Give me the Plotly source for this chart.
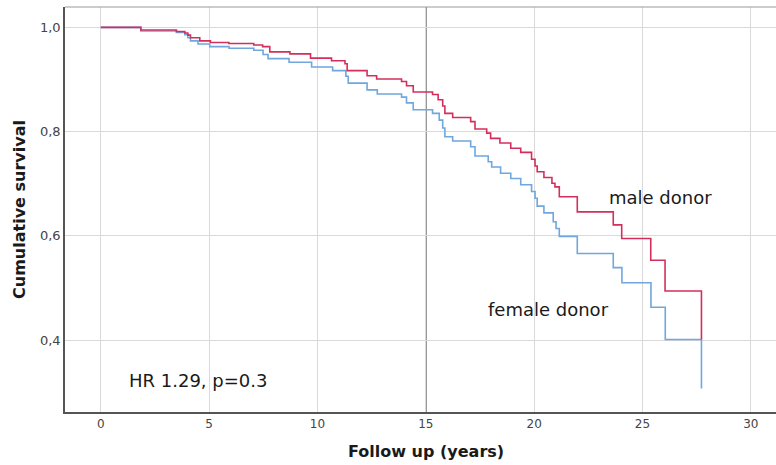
import plotly.graph_objects as go

# Kaplan-Meier step data (time in years, survival after the event)
male_time = [0, 1.85, 3.49, 3.88, 4.02, 4.14, 4.57, 5.06, 5.91, 7.06, 7.47, 7.80, 8.73, 9.68,
             10.65, 11.27, 11.37, 12.29, 12.73, 13.88, 14.11, 14.42, 15.31, 15.57, 15.78, 15.88,
             16.24, 17.07, 17.27, 17.81, 17.99, 18.42, 18.92, 19.38, 19.88, 20.04, 20.14, 20.45,
             20.82, 20.96, 21.16, 21.99, 23.65, 24.04, 25.38, 26.04, 27.72]
male_surv = [1.0, 0.995, 0.992, 0.989, 0.985, 0.980, 0.974, 0.971, 0.969, 0.966, 0.963, 0.953,
             0.949, 0.941, 0.936, 0.930, 0.917, 0.907, 0.901, 0.896, 0.888, 0.876, 0.871, 0.861,
             0.849, 0.835, 0.827, 0.819, 0.805, 0.797, 0.787, 0.778, 0.768, 0.760, 0.747, 0.734,
             0.723, 0.712, 0.701, 0.694, 0.675, 0.646, 0.621, 0.595, 0.553, 0.494, 0.401]

female_time = [0, 1.85, 3.49, 3.88, 4.02, 4.14, 4.49, 5.03, 5.92, 7.06, 7.49, 7.72, 8.69, 9.73,
               10.70, 11.31, 11.42, 12.29, 12.76, 13.88, 14.11, 14.42, 15.31, 15.62, 15.78, 15.88,
               16.24, 17.07, 17.27, 17.88, 18.04, 18.45, 18.92, 19.38, 19.88, 20.04, 20.14, 20.45,
               20.88, 21.01, 21.16, 21.99, 23.65, 24.05, 25.39, 26.05, 27.72]
female_surv = [1.0, 0.993, 0.990, 0.986, 0.980, 0.974, 0.968, 0.963, 0.960, 0.956, 0.948, 0.940,
               0.933, 0.924, 0.917, 0.906, 0.893, 0.880, 0.872, 0.866, 0.855, 0.842, 0.835, 0.822,
               0.807, 0.790, 0.782, 0.771, 0.753, 0.742, 0.732, 0.720, 0.710, 0.698, 0.685, 0.672,
               0.657, 0.644, 0.627, 0.614, 0.599, 0.566, 0.539, 0.510, 0.463, 0.401, 0.307]

x_ticks = [0, 5, 10, 15, 20, 25, 30]
y_ticks = [0.4, 0.6, 0.8, 1.0]
y_tick_labels = ["0,4", "0,6", "0,8", "1,0"]

RED = "#d42f5c"
BLUE = "#6fa7de"
FONT = "DejaVu Sans"

fig = go.Figure()
fig.add_trace(go.Scatter(x=female_time, y=female_surv, mode="lines", line_shape="hv",
                         line=dict(color=BLUE, width=1.6), name="female donor",
                         showlegend=False))
fig.add_trace(go.Scatter(x=male_time, y=male_surv, mode="lines", line_shape="hv",
                         line=dict(color=RED, width=1.6), name="male donor",
                         showlegend=False))

# darker reference line at 15 years
fig.add_shape(type="line", xref="x", yref="paper", x0=15, x1=15, y0=0, y1=1,
              line=dict(color="#222222", width=1.3), layer="between")
# top border
fig.add_shape(type="line", xref="paper", yref="paper", x0=0, x1=1, y0=1, y1=1,
              line=dict(color="#9a9a9a", width=1.2))

fig.add_annotation(x=25.85, y=0.674, text="male donor", showarrow=False,
                   font=dict(family=FONT, size=18, color="#1a1a1a"))
fig.add_annotation(x=20.65, y=0.458, text="female donor", showarrow=False,
                   font=dict(family=FONT, size=18, color="#1a1a1a"))
fig.add_annotation(x=4.5, y=0.323, text="HR 1.29, p=0.3", showarrow=False,
                   font=dict(family=FONT, size=18, color="#1a1a1a"))
# x axis title, centred under the 15-year line as in the reference
fig.add_annotation(x=15, xref="x", y=0, yref="paper", yshift=-39, yanchor="middle",
                   text="<b>Follow up (years)</b>", showarrow=False,
                   font=dict(family=FONT, size=16, color="#1a1a1a"))

fig.update_layout(
    width=776, height=465,
    margin=dict(l=65, r=0, t=7, b=53),
    paper_bgcolor="white", plot_bgcolor="white",
    font=dict(family=FONT, color="#333333"),
    xaxis=dict(range=[-1.65, 31.16], tickvals=x_ticks, ticktext=[str(v) for v in x_ticks],
               showgrid=True, gridcolor="#d9d9d9", gridwidth=1, zeroline=False,
               showline=True, linecolor="#555555", linewidth=1.5, ticks="",
               tickfont=dict(size=12, color="#444444")),
    yaxis=dict(range=[0.262, 1.039], tickvals=y_ticks, ticktext=y_tick_labels,
               showgrid=True, gridcolor="#d9d9d9", gridwidth=1, zeroline=False,
               showline=True, linecolor="#555555", linewidth=1.5, ticks="",
               tickfont=dict(size=13, color="#444444"),
               title=dict(text="<b>Cumulative survival</b>", font=dict(size=16, color="#1a1a1a"),
                          standoff=10)),
)

fig.write_html("out.html")
